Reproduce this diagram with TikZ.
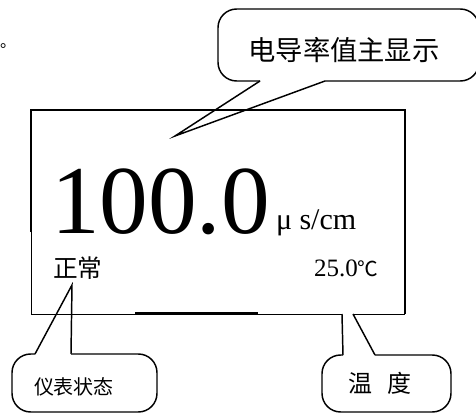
\documentclass[tikz,border=0pt]{standalone}
\usepackage{fontspec}
\setmainfont{Liberation Serif}
\newfontfamily\cjk{Noto Sans CJK SC}
\begin{document}
\begin{tikzpicture}[x=0.75pt,y=-0.75pt,
  bubble/.style={draw=black,line width=1.1pt,rounded corners=14pt,line join=round},
  tail/.style={draw=black,line width=1.1pt,line join=miter},
  thickframe/.style={draw=black,line width=1.5pt},
  thinframe/.style={draw=black,line width=0.6pt},
  lbl/.style={inner sep=0pt,outer sep=0pt}]
\useasboundingbox (0,0) rectangle (476,414);
% main display frame
\draw[thinframe] (31,232) -- (31,314) -- (342,314);
\draw[thinframe] (353,314) -- (405,314);
\draw[thickframe] (31,232) -- (31,110) -- (405,110) -- (405,314);
\draw[thickframe] (135,313) -- (258,313);
% top callout
\draw[bubble] (325,81) -- (479,81) -- (479,9) -- (218,9) -- (218,81) -- (260,81);
\coordinate (tipA) at (175,136);
\draw[tail] (260,81) -- (tipA) -- (325,81);
\node[lbl,font=\cjk\fontsize{20.5}{20.5}\selectfont] (title) at (344,50) {电导率值主显示};
% bottom-left callout
\draw[bubble] (71,354) -- (157,354) -- (157,412) -- (12,412) -- (12,354) -- (35,354);
\coordinate (tipB) at (72,285);
\draw[tail] (35,354) -- (tipB) -- (71,354);
\node[lbl,font=\cjk\fontsize{15}{15}\selectfont] (state) at (74,387) {仪表状态};
% bottom-right callout
\draw[bubble] (375,355) -- (451,355) -- (451,412) -- (322,412) -- (322,355) -- (343,355);
\draw[tail] (343,355) -- (342,314);
\draw[tail] (353,314) -- (375,355);
\node[lbl,font=\cjk\fontsize{18}{18}\selectfont] (temp) at (380,383) {温\hspace{0.6em}度};
% display contents
\node[lbl,anchor=base west,font=\fontsize{73}{73}\selectfont] (value) at (51,233) {100.0};
\node[lbl,anchor=base west,font=\fontsize{22.5}{22.5}\selectfont] (unit) at (276,229) {μ s/cm};
\node[lbl,font=\cjk\fontsize{18.5}{18.5}\selectfont] (normal) at (78,268) {正常};
\node[lbl,anchor=base west,font=\fontsize{18.75}{18.75}\selectfont] (tval) at (314,276) {25.0{\cjk\fontsize{15.5}{15.5}\selectfont ℃}};
% small mark at the left edge
\node[lbl,anchor=base west,font=\cjk\fontsize{12}{12}\selectfont] (dot) at (0,47) {。};
\end{tikzpicture}
\end{document}
